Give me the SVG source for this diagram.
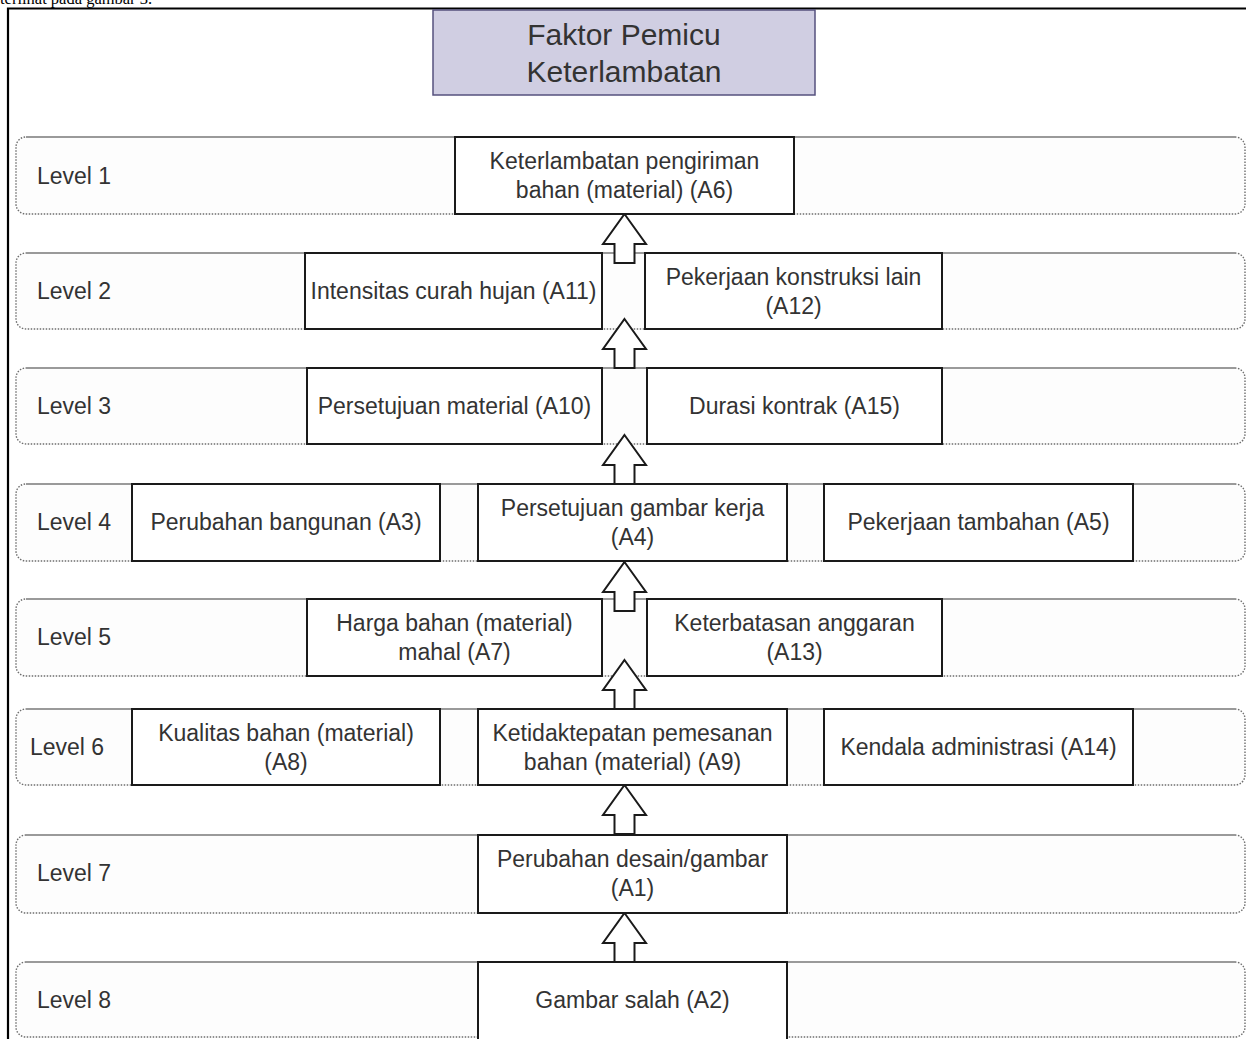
<svg xmlns="http://www.w3.org/2000/svg" width="1246" height="1039" viewBox="0 0 1246 1039">
<style>
.band{fill:#fdfdfd;stroke:#6e6e6e;stroke-width:1.4;stroke-dasharray:1.5 1.5}
.bandtop{stroke:#9a9a9a;stroke-width:2}
.node{fill:#ffffff;stroke:#1a1a1a;stroke-width:2}
.t{font-family:"Liberation Sans",Arial,sans-serif;font-size:23px;fill:#333333;text-anchor:middle}
.lbl{font-family:"Liberation Sans",Arial,sans-serif;font-size:23px;fill:#333333}
.title{font-family:"Liberation Sans",Arial,sans-serif;font-size:30px;fill:#333333;text-anchor:middle}
.arrow{fill:#ffffff;stroke:#1a1a1a;stroke-width:2;stroke-linejoin:miter}
</style>
<defs>
<path id="blockArrow" class="arrow" d="M0,0 L21.5,30 L10,30 L10,49 L-10,49 L-10,30 L-21.5,30 Z"/>
</defs>
<rect x="0" y="0" width="1246" height="1039" fill="#ffffff"/>
<text x="0" y="4" style="font-family:'Liberation Serif','Times New Roman',serif;font-size:16.5px;fill:#000">terlihat pada gambar 3.</text>
<path d="M8,1039 L8,8.5 L1246,8.5" fill="none" stroke="#000" stroke-width="2.2"/>

<g id="title">
<rect x="433" y="10" width="382" height="85" fill="#d0cee2" stroke="#56517e" stroke-width="1.5"/>
<text class="title" x="624" y="45">Faktor Pemicu</text>
<text class="title" x="624" y="82">Keterlambatan</text>
</g>

<g id="level1">
<rect class="band" x="16" y="137" width="1229" height="77" rx="10"/>
<line class="bandtop" x1="26" y1="137" x2="1235" y2="137"/>
<text class="lbl" x="37" y="183.5">Level 1</text>
</g>
<g id="level2">
<rect class="band" x="16" y="253" width="1229" height="76" rx="10"/>
<line class="bandtop" x1="26" y1="253" x2="1235" y2="253"/>
<text class="lbl" x="37" y="299">Level 2</text>
</g>
<g id="level3">
<rect class="band" x="16" y="368" width="1229" height="76" rx="10"/>
<line class="bandtop" x1="26" y1="368" x2="1235" y2="368"/>
<text class="lbl" x="37" y="414">Level 3</text>
</g>
<g id="level4">
<rect class="band" x="16" y="484" width="1229" height="77" rx="10"/>
<line class="bandtop" x1="26" y1="484" x2="1235" y2="484"/>
<text class="lbl" x="37" y="530">Level 4</text>
</g>
<g id="level5">
<rect class="band" x="16" y="599" width="1229" height="77" rx="10"/>
<line class="bandtop" x1="26" y1="599" x2="1235" y2="599"/>
<text class="lbl" x="37" y="645">Level 5</text>
</g>
<g id="level6">
<rect class="band" x="16" y="709" width="1229" height="76" rx="10"/>
<line class="bandtop" x1="26" y1="709" x2="1235" y2="709"/>
<text class="lbl" x="30" y="755">Level 6</text>
</g>
<g id="level7">
<rect class="band" x="16" y="835" width="1229" height="78" rx="10"/>
<line class="bandtop" x1="26" y1="835" x2="1235" y2="835"/>
<text class="lbl" x="37" y="881">Level 7</text>
</g>
<g id="level8">
<rect class="band" x="16" y="962" width="1229" height="75" rx="10"/>
<line class="bandtop" x1="26" y1="962" x2="1235" y2="962"/>
<text class="lbl" x="37" y="1008">Level 8</text>
</g>

<g id="connectors">
<use href="#blockArrow" x="624.5" y="214"/>
<use href="#blockArrow" x="624.5" y="319"/>
<use href="#blockArrow" x="624.5" y="435"/>
<use href="#blockArrow" x="624.5" y="562"/>
<use href="#blockArrow" x="624.5" y="660"/>
<use href="#blockArrow" x="624.5" y="785"/>
<use href="#blockArrow" x="624.5" y="913"/>
</g>

<g id="A6">
<rect class="node" x="455" y="137" width="339" height="77"/>
<text class="t" x="624.5" y="169">Keterlambatan pengiriman</text>
<text class="t" x="624.5" y="198">bahan (material) (A6)</text>
</g>
<g id="A11">
<rect class="node" x="305" y="253" width="297" height="76"/>
<text class="t" x="453.5" y="299">Intensitas curah hujan (A11)</text>
</g>
<g id="A12">
<rect class="node" x="645" y="253" width="297" height="76"/>
<text class="t" x="793.5" y="285">Pekerjaan konstruksi lain</text>
<text class="t" x="793.5" y="314">(A12)</text>
</g>
<g id="A10">
<rect class="node" x="307" y="368" width="295" height="76"/>
<text class="t" x="454.5" y="414">Persetujuan material (A10)</text>
</g>
<g id="A15">
<rect class="node" x="647" y="368" width="295" height="76"/>
<text class="t" x="794.5" y="414">Durasi kontrak (A15)</text>
</g>
<g id="A3">
<rect class="node" x="132" y="484" width="308" height="77"/>
<text class="t" x="286" y="530">Perubahan bangunan (A3)</text>
</g>
<g id="A4">
<rect class="node" x="478" y="484" width="309" height="77"/>
<text class="t" x="632.5" y="516">Persetujuan gambar kerja</text>
<text class="t" x="632.5" y="545">(A4)</text>
</g>
<g id="A5">
<rect class="node" x="824" y="484" width="309" height="77"/>
<text class="t" x="978.5" y="530">Pekerjaan tambahan (A5)</text>
</g>
<g id="A7">
<rect class="node" x="307" y="599" width="295" height="77"/>
<text class="t" x="454.5" y="631">Harga bahan (material)</text>
<text class="t" x="454.5" y="660">mahal (A7)</text>
</g>
<g id="A13">
<rect class="node" x="647" y="599" width="295" height="77"/>
<text class="t" x="794.5" y="631">Keterbatasan anggaran</text>
<text class="t" x="794.5" y="660">(A13)</text>
</g>
<g id="A8">
<rect class="node" x="132" y="709" width="308" height="76"/>
<text class="t" x="286" y="741">Kualitas bahan (material)</text>
<text class="t" x="286" y="770">(A8)</text>
</g>
<g id="A9">
<rect class="node" x="478" y="709" width="309" height="76"/>
<text class="t" x="632.5" y="741">Ketidaktepatan pemesanan</text>
<text class="t" x="632.5" y="770">bahan (material) (A9)</text>
</g>
<g id="A14">
<rect class="node" x="824" y="709" width="309" height="76"/>
<text class="t" x="978.5" y="755">Kendala administrasi (A14)</text>
</g>
<g id="A1">
<rect class="node" x="478" y="835" width="309" height="78"/>
<text class="t" x="632.5" y="867">Perubahan desain/gambar</text>
<text class="t" x="632.5" y="896">(A1)</text>
</g>
<g id="A2">
<rect class="node" x="478" y="962" width="309" height="78"/>
<text class="t" x="632.5" y="1008">Gambar salah (A2)</text>
</g>
</svg>
